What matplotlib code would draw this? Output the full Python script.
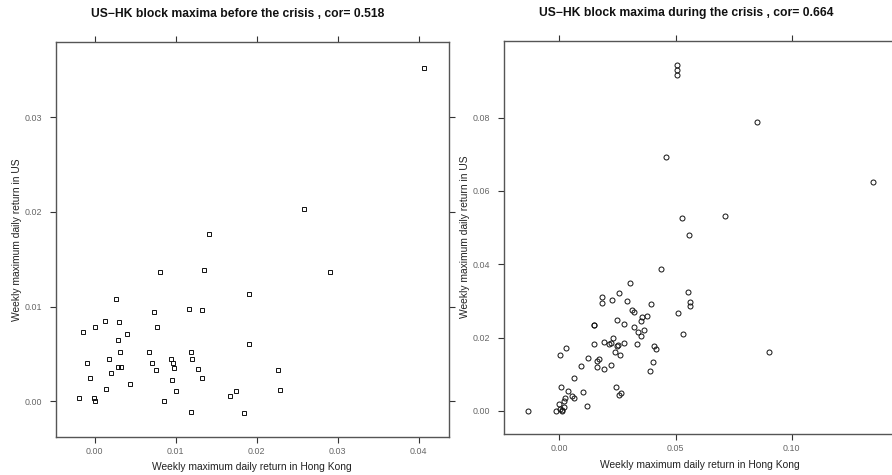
import matplotlib
matplotlib.use("Agg")
import matplotlib.pyplot as plt

plt.rcParams['font.family'] = ['Liberation Sans', 'DejaVu Sans']

# Before the crisis (HK, US)
hk_before = [0.0141, 0.0407, 0.0259, 0.0081, 0.0135, 0.0291, 0.0190, 0.0026, 0.0116, 0.0133,
             0.0073, 0.0012, 0.0030, 0.0000, 0.0077, -0.0015, 0.0040, 0.0029, 0.0191, 0.0067,
             0.0031, 0.0119, 0.0018, 0.0094, 0.0120, -0.0010, 0.0071, 0.0096, 0.0028, 0.0032,
             0.0075, 0.0098, 0.0128, 0.0226, 0.0020, -0.0006, 0.0095, 0.0133, 0.0043, 0.0014,
             0.0100, 0.0175, 0.0167, 0.0229, -0.0019, -0.0001, 0.0000, 0.0086, 0.0119, 0.0184]
us_before = [0.0177, 0.0352, 0.0203, 0.0137, 0.0139, 0.0137, 0.0113, 0.0108, 0.0098, 0.0096,
             0.0094, 0.0085, 0.0084, 0.0079, 0.0078, 0.0073, 0.0071, 0.0065, 0.0061, 0.0052,
             0.0052, 0.0052, 0.0045, 0.0045, 0.0045, 0.0040, 0.0041, 0.0040, 0.0036, 0.0036,
             0.0033, 0.0035, 0.0034, 0.0033, 0.0030, 0.0025, 0.0023, 0.0025, 0.0018, 0.0013,
             0.0011, 0.0011, 0.0006, 0.0012, 0.0004, 0.0004, 0.0000, 0.0000, -0.0011, -0.0012]

# During the crisis (HK, US)
hk_during = [0.0508, 0.0508, 0.0508, 0.0849, 0.0459, 0.1351, 0.0528, 0.0713, 0.0557, 0.0436,
             0.0304, 0.0555, 0.0256, 0.0185, 0.0185, 0.0225, 0.0291, 0.0396, 0.0564, 0.0564,
             0.0312, 0.0321, 0.0512, 0.0376, 0.0356, 0.0247, 0.0352, 0.0149, 0.0151, 0.0280,
             0.0320, 0.0366, 0.0340, 0.0350, 0.0531, 0.0231, 0.0191, 0.0149, 0.0214, 0.0222,
             0.0253, 0.0248, 0.0280, 0.0333, 0.0409, 0.0417, 0.0028, 0.0004, 0.0240, 0.0260,
             0.0904, 0.0170, 0.0122, 0.0162, 0.0162, 0.0191, 0.0222, 0.0403, 0.0389, 0.0093,
             0.0065, 0.0009, 0.0245, 0.0037, 0.0103, 0.0264, 0.0257, 0.0055, 0.0065, 0.0026,
             0.0000, 0.0020, 0.0022, 0.0120, 0.0010, 0.0012, -0.0014, -0.0133, 0.0004]
us_during = [0.0943, 0.0931, 0.0917, 0.0789, 0.0692, 0.0625, 0.0527, 0.0533, 0.0481, 0.0388,
             0.0348, 0.0324, 0.0323, 0.0311, 0.0295, 0.0303, 0.0299, 0.0293, 0.0296, 0.0286,
             0.0275, 0.0269, 0.0266, 0.0259, 0.0256, 0.0249, 0.0245, 0.0235, 0.0234, 0.0236,
             0.0229, 0.0222, 0.0214, 0.0205, 0.0210, 0.0199, 0.0187, 0.0182, 0.0183, 0.0185,
             0.0180, 0.0178, 0.0184, 0.0182, 0.0177, 0.0169, 0.0171, 0.0152, 0.0161, 0.0152,
             0.0160, 0.0141, 0.0143, 0.0135, 0.0121, 0.0113, 0.0126, 0.0133, 0.0110, 0.0123,
             0.0089, 0.0066, 0.0066, 0.0053, 0.0051, 0.0048, 0.0044, 0.0042, 0.0036, 0.0035,
             0.0018, 0.0027, 0.0012, 0.0014, 0.0001, 0.0002, 0.0000, 0.0000, 0.0006]

title_before = "US\u2212HK block maxima before the crisis , cor= 0.518"
title_during = "US\u2212HK block maxima during the crisis , cor= 0.664"
xlabel = "Weekly maximum daily return in Hong Kong"
ylabel = "Weekly maximum daily return in US"

xt_before = [0.00, 0.01, 0.02, 0.03, 0.04]
yt_before = [0.00, 0.01, 0.02, 0.03]
xt_during = [0.00, 0.05, 0.10]
yt_during = [0.00, 0.02, 0.04, 0.06, 0.08]

W, H = 892, 475
fig = plt.figure(figsize=(W / 100, H / 100), dpi=100)

def px_axes(l, r, t, b):
    return fig.add_axes([l / W, 1 - b / H, (r - l) / W, (b - t) / H])

frame_col = '#555555'
tick_col = '#666666'

def style(ax, xt, yt, show_right):
    for s in ax.spines.values():
        s.set_color(frame_col)
        s.set_linewidth(1.0)
    ax.set_xticks(xt)
    ax.set_yticks(yt)
    ax.set_xticklabels([f"{v:.2f}" for v in xt])
    ax.set_yticklabels([f"{v:.2f}" for v in yt])
    ax.tick_params(axis='both', direction='out', length=4, width=0.8, color='#333333',
                   labelsize=6.4, labelcolor=tick_col)
    ax.tick_params(axis='x', top=True, labeltop=False, pad=3)
    ax.tick_params(axis='y', right=show_right, labelright=False, pad=6)

# Left panel
ax1 = px_axes(56, 449.3, 42.3, 437)
ax1.plot(hk_before, us_before, linestyle='none', marker='s', markersize=3.4,
         markerfacecolor='none', markeredgecolor='#111111', markeredgewidth=0.7)
ax1.set_xlim(-0.0048, 0.0438)
ax1.set_ylim(-0.00376, 0.0379)
style(ax1, xt_before, yt_before, True)

# Right panel
ax2 = px_axes(504, 901, 40.7, 434)
ax2.plot(hk_during, us_during, linestyle='none', marker='o', markersize=3.6,
         markerfacecolor='none', markeredgecolor='#111111', markeredgewidth=0.7)
ax2.set_xlim(-0.0238, 0.147)
ax2.set_ylim(-0.0063, 0.101)
style(ax2, xt_during, yt_during, False)

fig.text(237.5 / W, 1 - 14 / H, title_before, ha='center', va='center',
         fontsize=8.7, fontweight='bold', color='#111111')
fig.text(686.7 / W, 1 - 13 / H, title_during, ha='center', va='center',
         fontsize=8.7, fontweight='bold', color='#111111')

fig.text(252.3 / W, 1 - 467 / H, xlabel, ha='center', va='center', fontsize=7.4, color='#222222')
fig.text(700 / W, 1 - 465 / H, xlabel, ha='center', va='center', fontsize=7.4, color='#222222')
fig.text(17 / W, 1 - 240 / H, ylabel, ha='center', va='center', rotation=90, fontsize=7.4, color='#222222')
fig.text(465 / W, 1 - 237 / H, ylabel, ha='center', va='center', rotation=90, fontsize=7.4, color='#222222')

fig.savefig("out.png", dpi=100)
